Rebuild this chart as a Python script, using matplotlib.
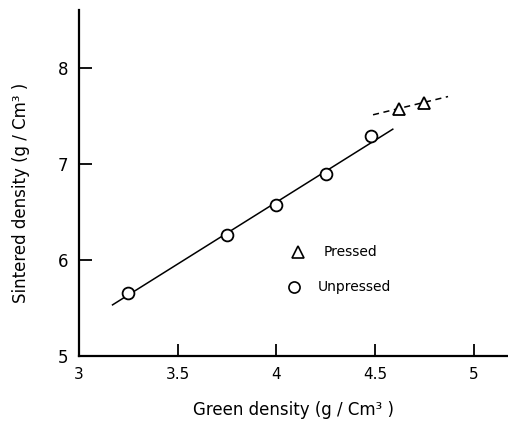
import matplotlib
matplotlib.use("Agg")
import matplotlib.pyplot as plt

# Data
unpressed_x = [3.25, 3.75, 4.0, 4.25, 4.48]
unpressed_y = [5.65, 6.26, 6.57, 6.89, 7.29]
pressed_x = [4.62, 4.75]
pressed_y = [7.57, 7.63]
fit_unpressed_x = [3.17, 4.59]
fit_unpressed_y = [5.53, 7.36]
fit_pressed_x = [4.49, 4.87]
fit_pressed_y = [7.51, 7.70]
xticks = [3, 3.5, 4, 4.5, 5]
xticklabels = ["3", "3.5", "4", "4.5", "5"]
yticks = [5, 6, 7, 8]
yticklabels = ["5", "6", "7", "8"]

fig = plt.figure(figsize=(5.08, 4.23), dpi=100)
ax = fig.add_axes([0.1555, 0.159, 0.843, 0.817])

ax.plot(fit_unpressed_x, fit_unpressed_y, color="black", lw=1.1, zorder=1)
ax.plot(fit_pressed_x, fit_pressed_y, color="black", lw=1.1, ls=(0, (4, 3)), zorder=1)
ax.plot(unpressed_x, unpressed_y, ls="none", marker="o", ms=8.5, mfc="white",
        mec="black", mew=1.3, zorder=3)
ax.plot(pressed_x, pressed_y, ls="none", marker="^", ms=9, mfc="white",
        mec="black", mew=1.3, zorder=3)

# Legend (manual, inside the axes)
ax.plot([4.11], [6.08], ls="none", marker="^", ms=8, mfc="white", mec="black", mew=1.2)
ax.text(4.24, 6.08, "Pressed", fontsize=10, va="center", ha="left")
ax.plot([4.09], [5.72], ls="none", marker="o", ms=8, mfc="white", mec="black", mew=1.2)
ax.text(4.21, 5.72, "Unpressed", fontsize=10, va="center", ha="left")

ax.set_xlim(3, 5.17)
ax.set_ylim(5, 8.6)
ax.set_xticks(xticks)
ax.set_xticklabels(xticklabels, fontsize=11)
ax.set_yticks(yticks)
ax.set_yticklabels(yticklabels, fontsize=12)
ax.tick_params(axis="both", direction="in", length=9, width=1.3)
ax.tick_params(axis="x", pad=8)
ax.tick_params(axis="y", pad=8)
for s in ["top", "right"]:
    ax.spines[s].set_visible(False)
for s in ["left", "bottom"]:
    ax.spines[s].set_linewidth(1.6)

ax.set_xlabel("Green density (g / Cm³ )", fontsize=12, labelpad=14)
ax.set_ylabel("Sintered density (g / Cm³ )", fontsize=12)
ax.yaxis.set_label_coords(-0.114, 0.472)

fig.savefig("out.png", dpi=100)
